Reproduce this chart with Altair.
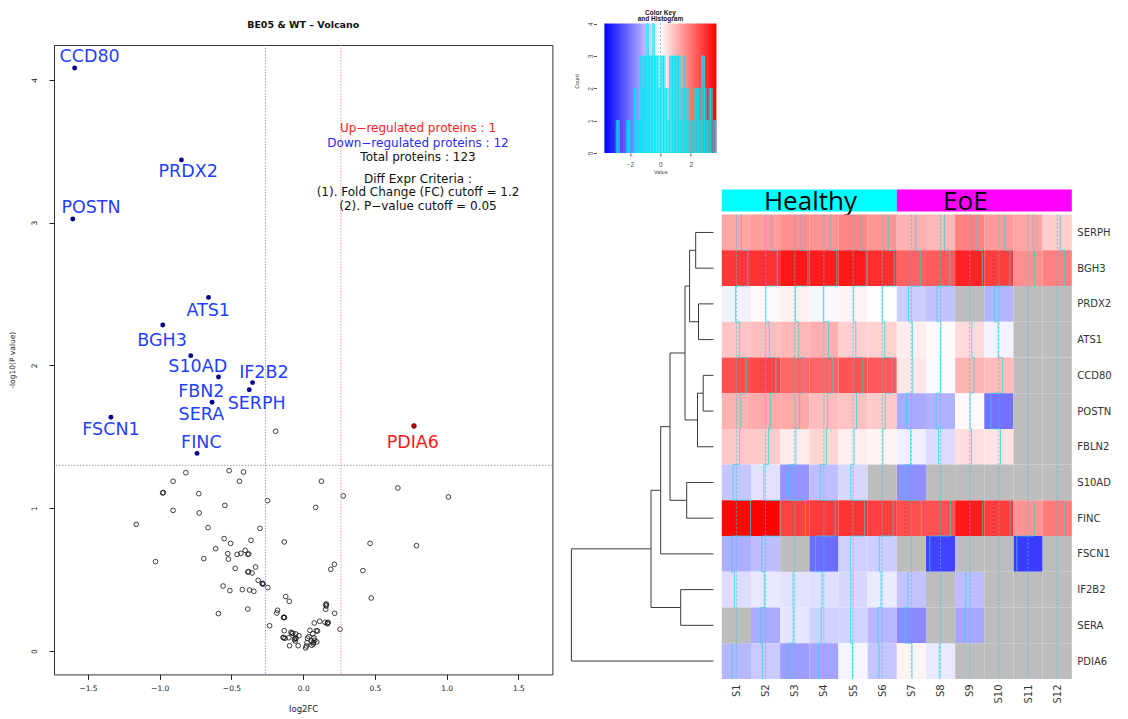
import json
import numpy as np
import pandas as pd
import altair as alt

# ======================= Volcano plot data =======================
sig_proteins = ["CCD80", "PRDX2", "POSTN", "ATS1", "BGH3", "S10AD", "FBN2",
                "IF2B2", "SERPH", "SERA", "FSCN1", "FINC", "PDIA6"]
sig_log2fc = [-1.593, -0.849, -1.606, -0.660, -0.979, -0.784, -0.590,
              -0.353, -0.376, -0.635, -1.340, -0.740, 0.772]
sig_nlog10p = [4.084, 3.440, 3.026, 2.477, 2.284, 2.069, 1.919,
               1.880, 1.830, 1.742, 1.637, 1.384, 1.576]
sig_direction = ["down"] * 12 + ["up"]
sig_label_x = [-1.489, -0.802, -1.479, -0.662, -0.984, -0.735, -0.710,
               -0.274, -0.324, -0.710, -1.340, -0.710, 0.764]
sig_label_y = [4.161, 3.353, 3.100, 2.382, 2.174, 1.992, 1.812,
               1.945, 1.730, 1.654, 1.548, 1.459, 1.459]

ns_log2fc = [-0.192, -0.818, -0.516, -0.416, -0.907, -0.444, 0.127, -0.980, -0.975, -0.728,
             0.660, 0.279, 1.012, -0.249, -0.546, 0.087, -0.907, -0.725, -1.164, -0.663,
             -0.302, -0.551, -0.364, -0.132, -0.506, 0.466, 0.790, -0.610, -0.404, -0.526,
             -0.461, -0.434, -0.386, -0.693, -0.521, -1.029, 0.217, 0.192, 0.416, -0.332,
             -0.474, -0.386, -0.381, -0.356, -0.314, -0.284, -0.277, -0.247, -0.558, -0.511,
             -0.424, -0.374, -0.344, 0.474, -0.122, -0.097, 0.157, 0.162, 0.157, -0.386,
             -0.591, -0.179, -0.184, 0.219, -0.135, -0.137, 0.077, 0.115, 0.152, 0.169,
             0.174, -0.234, 0.257, -0.132, -0.085, -0.072, -0.052, -0.030, 0.047, 0.092,
             0.067, -0.137, -0.127, -0.100, -0.057, -0.055, 0.030, 0.075, 0.057, 0.095,
             0.070, 0.027, -0.095, -0.035, 0.017, 0.022, -0.285, -0.130, 0.070, -0.060,
             0.160, -0.050, 0.080, 0.170, -0.080, 0.040, -0.380, 0.100, -0.140, 0.060]
ns_nlog10p = [1.539, 1.249, 1.263, 1.254, 1.189, 1.189, 1.189, 1.107, 1.110, 1.102,
              1.142, 1.086, 1.079, 1.053, 1.020, 1.006, 0.985, 0.967, 0.887, 0.864,
              0.859, 0.787, 0.775, 0.764, 0.754, 0.754, 0.738, 0.717, 0.705, 0.682,
              0.677, 0.684, 0.677, 0.647, 0.644, 0.626, 0.607, 0.572, 0.563, 0.588,
              0.579, 0.553, 0.556, 0.546, 0.495, 0.474, 0.469, 0.444, 0.455, 0.423,
              0.430, 0.427, 0.418, 0.371, 0.381, 0.348, 0.325, 0.329, 0.292, 0.294,
              0.262, 0.285, 0.266, 0.264, 0.236, 0.234, 0.196, 0.208, 0.201, 0.191,
              0.201, 0.177, 0.152, 0.142, 0.131, 0.124, 0.119, 0.107, 0.145, 0.142,
              0.121, 0.093, 0.089, 0.093, 0.089, 0.070, 0.089, 0.091, 0.070, 0.063,
              0.049, 0.058, 0.037, 0.037, 0.021, 0.035, 0.470, 0.235, 0.060, 0.080,
              0.315, 0.090, 0.075, 0.195, 0.125, 0.100, 0.680, 0.140, 0.095, 0.040]

fc_cutoff = 1.2
p_cutoff = 0.05
n_up, n_down, n_total = 1, 12, 123

# ======================= Heatmap data =======================
proteins = ["SERPH", "BGH3", "PRDX2", "ATS1", "CCD80", "POSTN", "FBLN2",
            "S10AD", "FINC", "FSCN1", "IF2B2", "SERA", "PDIA6"]
samples = ["S1", "S2", "S3", "S4", "S5", "S6", "S7", "S8", "S9", "S10", "S11", "S12"]
sample_groups = ["Healthy"] * 6 + ["EoE"] * 6
group_names = ["Healthy", "EoE"]
group_label_pos = [3.04, 8.35]

SERPH = [1.28, 1.42, 1.63, 1.57, 1.74, 1.51, 1.12, 1.05, 1.83, 1.46, 1.31, 0.72]
BGH3 = [2.87, 2.95, 3.34, 3.26, 3.31, 3.02, 2.27, 2.36, 3.18, 2.78, 1.62, 1.84]
PRDX2 = [-0.21, 0.08, 0.22, -0.12, 0.14, -0.02, -0.74, -0.88, None, -1.07, None, None]
ATS1 = [0.83, 0.94, 1.02, 1.16, 0.69, 0.66, 0.26, 0.06, 0.53, -0.18, None, None]
CCD80 = [2.52, 2.63, 2.18, 2.24, 2.47, 2.39, 0.34, -0.06, 1.08, 0.96, None, None]
POSTN = [1.13, 1.23, 1.24, 0.97, 0.88, 0.77, -1.22, -1.12, 0.09, -2.03, None, None]
FBLN2 = [0.81, 0.76, 0.31, 0.62, 0.28, 0.17, -0.23, -0.51, 0.46, 0.41, None, None]
S10AD = [-0.83, -0.42, -1.53, -0.93, -0.57, None, -1.61, None, None, None, None, None]
FINC = [3.58, 3.66, 2.71, 2.84, 2.92, 2.76, 2.54, 2.48, 3.29, 2.81, 1.58, 1.91]
FSCN1 = [-1.17, -0.94, None, -2.12, -0.68, -0.72, None, -2.71, None, None, -2.83, None]
IF2B2 = [-0.49, -0.33, -0.41, -0.46, -0.58, -0.29, -0.86, None, -0.97, None, None, None]
SERA = [None, -1.21, -0.38, -0.66, -0.63, -1.03, -1.68, None, -1.27, None, None, None]
PDIA6 = [-1.04, -0.77, -1.42, -1.31, -0.15, -0.84, 0.16, -0.32, None, None, None, None]
heat_rows = [SERPH, BGH3, PRDX2, ATS1, CCD80, POSTN, FBLN2, S10AD, FINC, FSCN1, IF2B2, SERA, PDIA6]

# row dendrogram: merges (children) and merge heights
dendro_merges = [("SERPH", "BGH3"), ("PRDX2", "ATS1"), ("m1", "m2"), ("CCD80", "POSTN"),
                 ("m4", "FBLN2"), ("m3", "m5"), ("S10AD", "FINC"), ("m6", "m7"),
                 ("m8", "FSCN1"), ("IF2B2", "SERA"), ("m9", "m10"), ("m11", "PDIA6")]
dendro_heights = [0.89, 0.75, 1.195, 0.515, 0.80, 1.425, 1.34, 2.175, 2.64, 1.64, 3.125, 7.105]

KEY_MAX = 3.68

# ======================= Layout sizes =======================
VOL_W, VOL_H = 498.4, 629.4
KEY_W, KEY_H = 112, 144
KEY_TOP = 4.455
KEY_GRAD_TOP = 4.01
DEN_W = 142.1
HEAT_W, HEAT_H = 350, 464.3
ANN_H = 22

FONT = "DejaVu Sans"

# ======================= Volcano chart =======================
xs = alt.Scale(domain=[-1.737, 1.737], nice=False, zero=False)
ys = alt.Scale(domain=[-0.164, 4.245], nice=False, zero=False)

x_axis = alt.Axis(values=[-1.5, -1.0, -0.5, 0.0, 0.5, 1.0, 1.5], format=".1f", title="log2FC",
                  grid=False, domain=False, tickSize=5, tickColor="#222", labelColor="#222",
                  labelFont=FONT, labelFontSize=7.5, labelPadding=9.5, labelBaseline="middle",
                  labelFlush=False, labelOverlap=False, titleFont=FONT, titleFontSize=8.5,
                  titleFontWeight="normal", titleColor="#222", titleY=34, titleBaseline="middle")
y_axis = alt.Axis(values=[0, 1, 2, 3, 4], format="d", title="-log10(P value)",
                  grid=False, domain=False, tickSize=5, tickColor="#222", labelColor="#222",
                  labelFont=FONT, labelFontSize=7.5, labelAngle=270, labelAlign="center",
                  labelBaseline="middle", labelPadding=14.5, labelFlush=False, labelOverlap=False,
                  titleFont=FONT, titleFontSize=7.5, titleFontWeight="normal", titleColor="#222",
                  titleX=-41.5, titleAngle=270, titleBaseline="middle")


def vx(field):
    return alt.X(field, type="quantitative", scale=xs, axis=x_axis)


def vy(field):
    return alt.Y(field, type="quantitative", scale=ys, axis=y_axis)


ns_df = pd.DataFrame({"log2FC": ns_log2fc, "nlogp": ns_nlog10p})
sig_df = pd.DataFrame({"protein": sig_proteins, "log2FC": sig_log2fc, "nlogp": sig_nlog10p,
                       "dir": sig_direction, "lx": sig_label_x, "ly": sig_label_y})
one = pd.DataFrame({"k": [0]})

fc_line = float(np.log2(fc_cutoff))
p_line = float(-np.log10(p_cutoff))

ns_layer = alt.Chart(ns_df).mark_point(shape="circle", filled=False, color="#111",
                                       size=22, strokeWidth=0.8, opacity=1).encode(
    x=vx("log2FC"), y=vy("nlogp"))

down_rule = alt.Chart(one).mark_rule(color="#9a9aff", strokeDash=[1.5, 1.5], strokeWidth=1).encode(
    x=alt.XDatum(-fc_line, type="quantitative", scale=xs, axis=x_axis))
up_rule = alt.Chart(one).mark_rule(color="#ff9a9a", strokeDash=[1.5, 1.5], strokeWidth=1).encode(
    x=alt.XDatum(fc_line, type="quantitative", scale=xs, axis=x_axis))
p_rule = alt.Chart(one).mark_rule(color="#9a9a9a", strokeDash=[1.5, 1.5], strokeWidth=1).encode(
    y=alt.YDatum(p_line, type="quantitative", scale=ys, axis=y_axis))

sig_down = alt.Chart(sig_df).transform_filter("datum.dir == 'down'").mark_circle(
    size=24, opacity=1, color="#00008b").encode(x=vx("log2FC"), y=vy("nlogp"))
sig_up = alt.Chart(sig_df).transform_filter("datum.dir == 'up'").mark_circle(
    size=24, opacity=1, color="#c40000", stroke="#400000", strokeWidth=0.6).encode(
    x=vx("log2FC"), y=vy("nlogp"))
lab_down = alt.Chart(sig_df).transform_filter("datum.dir == 'down'").mark_text(
    font=FONT, fontSize=17.5, baseline="middle", align="center", color="#1f3fff").encode(
    x=vx("lx"), y=vy("ly"), text="protein:N")
lab_up = alt.Chart(sig_df).transform_filter("datum.dir == 'up'").mark_text(
    font=FONT, fontSize=17.5, baseline="middle", align="center", color="#ff1a1a").encode(
    x=vx("lx"), y=vy("ly"), text="protein:N")


def stat_text(txt, color, y):
    return alt.Chart(one).mark_text(text=txt, color=color, font=FONT, fontSize=12,
                                    align="center", baseline="middle").encode(
        x=alt.value(364), y=alt.value(y))


stats = [
    stat_text(f"Up\u2212regulated proteins : {n_up}", "#ff2020", 83.4),
    stat_text(f"Down\u2212regulated proteins : {n_down}", "#2a2aff", 98.4),
    stat_text(f"Total proteins : {n_total}", "#111", 112.0),
    stat_text("Diff Expr Criteria :", "#111", 134.0),
    stat_text(f"(1). Fold Change (FC) cutoff = {fc_cutoff}", "#111", 146.7),
    stat_text(f"(2). P\u2212value cutoff = {p_cutoff}", "#111", 161.0),
]

volcano = alt.layer(ns_layer, down_rule, up_rule, p_rule, sig_down, sig_up, lab_down, lab_up,
                    *stats).properties(
    width=VOL_W, height=VOL_H,
    title=alt.TitleParams("BE05 & WT \u2013 Volcano", font=FONT, fontSize=9.5, fontWeight="bold",
                          color="#111", baseline="middle", offset=10, anchor="middle", frame="group"),
    view=alt.ViewBackground(stroke="#333", strokeWidth=1))

# ======================= Heatmap data frames =======================
cells = []
for r, (p, vals) in enumerate(zip(proteins, heat_rows)):
    for c, (s, v) in enumerate(zip(samples, vals)):
        cells.append({"protein": p, "sample": s, "r": r, "c": c, "r1": r + 1, "c1": c + 1,
                      "v": (np.nan if v is None else float(v))})
heat_df = pd.DataFrame(cells)
valid_df = heat_df.dropna(subset=["v"]).copy()
na_df = heat_df[heat_df["v"].isna()].drop(columns=["v"]).copy()

TRACE_K = 0.5 / KEY_MAX
valid_df["tx"] = valid_df["c"] + 0.5 + valid_df["v"] * TRACE_K
conn = []
for c in range(len(samples)):
    for r in range(len(proteins) - 1):
        v1, v2 = heat_rows[r][c], heat_rows[r + 1][c]
        if v1 is not None and v2 is not None:
            conn.append({"x": c + 0.5 + v1 * TRACE_K, "x2": c + 0.5 + v2 * TRACE_K, "y": r + 1})
conn_df = pd.DataFrame(conn)
col_df = pd.DataFrame({"sample": samples, "cx": [i + 0.5 for i in range(len(samples))]})

hx = alt.Scale(domain=[0, len(samples)], nice=False, zero=False)
hy = alt.Scale(domain=[0, len(proteins)], nice=False, zero=False, reverse=True)
heat_color = alt.Scale(domain=[-KEY_MAX, 0, KEY_MAX], range=["#0000ff", "#ffffff", "#ff0000"],
                       interpolate="rgb")

hx_axis = alt.Axis(values=[i + 0.5 for i in range(len(samples))],
                   labelExpr=f"{json.dumps(samples)}[floor(datum.value)]",
                   title=None, ticks=False, domain=False, grid=False, labelAngle=270,
                   labelAlign="right", labelBaseline="middle", labelPadding=5, labelFont=FONT,
                   labelFontSize=10, labelColor="#333", labelFlush=False, labelOverlap=False)
hy_axis = alt.Axis(orient="right", values=[i + 0.5 for i in range(len(proteins))],
                   labelExpr=f"{json.dumps(proteins)}[floor(datum.value)]",
                   title=None, ticks=False, domain=False, grid=False, labelAlign="left",
                   labelBaseline="middle", labelPadding=5, labelFont=FONT, labelFontSize=10,
                   labelColor="#333", labelFlush=False, labelOverlap=False)


def hxe(field):
    return alt.X(field, type="quantitative", scale=hx, axis=hx_axis)


def hye(field):
    return alt.Y(field, type="quantitative", scale=hy, axis=hy_axis)


cell_layer = alt.Chart(valid_df).mark_rect(strokeWidth=0).encode(
    x=hxe("c"), x2="c1:Q", y=hye("r"), y2="r1:Q",
    color=alt.Color("v:Q", scale=heat_color, legend=None))
na_layer = alt.Chart(na_df).mark_rect(color="#bdbdbd", strokeWidth=0).encode(
    x=hxe("c"), x2="c1:Q", y=hye("r"), y2="r1:Q")
center_layer = alt.Chart(col_df).mark_rule(color="#30c8dc", strokeDash=[2, 2], strokeWidth=0.8).encode(
    x=hxe("cx"))
trace_layer = alt.Chart(valid_df).mark_rule(color="#30cfe4", strokeWidth=0.8, opacity=0.9).encode(
    x=hxe("tx"), y=hye("r"), y2="r1:Q")
conn_layer = alt.Chart(conn_df).mark_rule(color="#30cfe4", strokeWidth=0.8, opacity=0.9).encode(
    x=hxe("x"), x2="x2:Q", y=hye("y"))

heat = alt.layer(cell_layer, na_layer, center_layer, trace_layer, conn_layer).properties(
    width=HEAT_W, height=HEAT_H)

# ======================= Annotation bar =======================
g_start = [sample_groups.index(g) for g in group_names]
g_end = [len(sample_groups) - sample_groups[::-1].index(g) for g in group_names]
grp_df = pd.DataFrame({"group": group_names, "start": g_start, "end": g_end, "lp": group_label_pos})
ann_rect = alt.Chart(grp_df).mark_rect().encode(
    x=alt.X("start:Q", scale=hx, axis=None), x2="end:Q",
    color=alt.Color("group:N", scale=alt.Scale(domain=group_names, range=["#00ffff", "#ff00ff"]),
                    legend=None))
ann_text = alt.Chart(grp_df).mark_text(font="Open Sans", fontSize=26, baseline="alphabetic",
                                       color="#000").encode(
    x=alt.X("lp:Q", scale=hx, axis=None), y=alt.value(20.4), text="group:N")
annot = alt.layer(ann_rect, ann_text).properties(width=HEAT_W, height=ANN_H)

# ======================= Dendrogram =======================
node_pos = {name: (i + 0.5, 0.0) for i, name in enumerate(proteins)}
segs = []
for k, ((a, b), h) in enumerate(zip(dendro_merges, dendro_heights), start=1):
    ya, ha = node_pos[a]
    yb, hb = node_pos[b]
    segs.append({"x": h, "x2": h, "y": ya, "y2": yb})
    segs.append({"x": h, "x2": ha, "y": ya, "y2": ya})
    segs.append({"x": h, "x2": hb, "y": yb, "y2": yb})
    node_pos[f"m{k}"] = ((ya + yb) / 2, h)
seg_df = pd.DataFrame(segs)
dx = alt.Scale(domain=[0, max(dendro_heights)], nice=False, zero=False, reverse=True)
dendro = alt.Chart(seg_df).mark_rule(color="#3a3a3a", strokeWidth=1).encode(
    x=alt.X("x:Q", scale=dx, axis=None), x2="x2:Q",
    y=alt.Y("y:Q", scale=hy, axis=None), y2="y2:Q").properties(width=DEN_W, height=HEAT_H)

# ======================= Color key + histogram =======================
ck_x = alt.Scale(domain=[-KEY_MAX, KEY_MAX], nice=False, zero=False)
ck_y = alt.Scale(domain=[0, KEY_TOP], nice=False, zero=False)
ck_x_axis = alt.Axis(values=[-2, 0, 2], format="d", title="Value", grid=False, domain=False,
                     tickSize=3, tickColor="#555", labelColor="#444", labelFont="Liberation Sans",
                     labelFontSize=6.5, labelPadding=8, labelBaseline="middle", labelFlush=False,
                     titleFont="Liberation Sans", titleFontSize=5.5, titleFontWeight="normal",
                     titleColor="#444", titleY=18, titleBaseline="middle")
ck_y_axis = alt.Axis(values=[0, 1, 2, 3, 4], format="d", title="Count", grid=False, domain=False,
                     offset=8, tickSize=3, tickColor="#555", labelColor="#444",
                     labelFont="Liberation Sans", labelFontSize=6.5, labelAngle=270,
                     labelAlign="center", labelBaseline="middle", labelPadding=3, labelFlush=False,
                     labelOverlap=False,
                     titleFont="Liberation Sans", titleFontSize=5.5, titleFontWeight="normal",
                     titleColor="#444", titleX=-20, titleAngle=270, titleBaseline="middle")

key_grad = alt.Chart(one).mark_rect(color=alt.LinearGradient(
    gradient="linear", x1=0, x2=1, y1=0, y2=0,
    stops=[alt.GradientStop(offset=0, color="#0000ff"),
           alt.GradientStop(offset=0.5, color="#ffffff"),
           alt.GradientStop(offset=1, color="#ff0000")])).encode(
    x=alt.XDatum(-KEY_MAX, type="quantitative", scale=ck_x, axis=ck_x_axis),
    x2=alt.X2Datum(KEY_MAX),
    y=alt.YDatum(0, type="quantitative", scale=ck_y, axis=ck_y_axis),
    y2=alt.Y2Datum(KEY_GRAD_TOP))
key_hist = alt.Chart(valid_df).transform_bin(
    as_=["b0", "b1"], field="v", bin=alt.Bin(extent=[-KEY_MAX, KEY_MAX], step=0.1)
).transform_aggregate(n="count()", groupby=["b0", "b1"]).mark_rect(
    fill="#00ffff", fillOpacity=0.22, stroke="#00e4f4", strokeWidth=0.8, clip=True).encode(
    x=alt.X("b0:Q", scale=ck_x, axis=ck_x_axis), x2="b1:Q",
    y=alt.Y("n:Q", scale=ck_y, axis=ck_y_axis), y2=alt.Y2Datum(0))
key_zero = alt.Chart(one).mark_rule(color="#30c8dc", strokeDash=[2, 2], strokeWidth=0.8).encode(
    x=alt.XDatum(0, type="quantitative", scale=ck_x, axis=ck_x_axis),
    y=alt.YDatum(0, type="quantitative", scale=ck_y, axis=ck_y_axis),
    y2=alt.Y2Datum(KEY_GRAD_TOP))
color_key = alt.layer(key_grad, key_hist, key_zero).properties(
    width=KEY_W, height=KEY_H,
    title=alt.TitleParams(["Color Key", "and Histogram"], font="Liberation Sans", fontSize=6.5,
                          fontWeight="bold", color="#111", baseline="top", offset=-1, dy=12.5,
                          lineHeight=6.5, anchor="middle", frame="group"))


# ======================= Assemble =======================
def spacer(w, h):
    return alt.Chart(one).mark_rect(opacity=0).encode(
        x=alt.value(0), x2=alt.value(1), y=alt.value(0), y2=alt.value(1)).properties(width=w, height=h)


left_col = alt.vconcat(spacer(VOL_W, 35.3), volcano, spacing=0, bounds="flush")
row1 = alt.hconcat(spacer(0.5, KEY_H), color_key, spacing=0)
dendro_col = alt.vconcat(spacer(DEN_W, ANN_H), dendro, spacing=3, bounds="flush")
heat_col = alt.vconcat(annot, heat, spacing=3, bounds="flush")
row2 = alt.hconcat(dendro_col, heat_col, spacing=5.4)
right_col = alt.vconcat(row1, row2, spacing=12.6)

chart = alt.hconcat(left_col, right_col, spacing=16.4).properties(
    padding=0, background="white"
).configure(font=FONT).configure_view(stroke="transparent")

chart.save("out.html", embed_options={"renderer": "svg", "actions": False})
